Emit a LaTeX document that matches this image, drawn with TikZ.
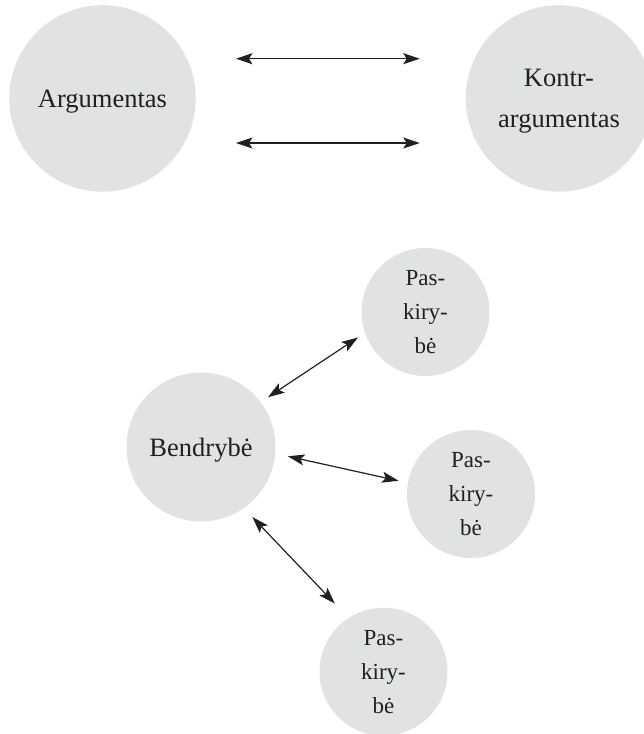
\documentclass[tikz,border=0pt]{standalone}
\usepackage{fontspec}
\setmainfont{Liberation Serif}
\usetikzlibrary{arrows.meta}
\definecolor{bubble}{RGB}{225,226,228}
\definecolor{ink}{RGB}{35,31,32}
\begin{document}
\begin{tikzpicture}[x=1pt,y=-1pt,
  bub/.style={circle, fill=bubble, inner sep=0pt, outer sep=0pt, text=ink, align=center, text depth=0pt},
  big/.style={bub, minimum size=186.5pt, font=\fontsize{26.5}{41}\selectfont},
  mid/.style={bub, minimum size=149pt, font=\fontsize{26.5}{41}\selectfont},
  small/.style={bub, minimum size=128pt, font=\fontsize{23}{34}\selectfont},
  arr/.style={{Stealth[length=16.5pt,width=11pt,inset=3.5pt]}-{Stealth[length=16.5pt,width=11pt,inset=3.5pt]}, line width=1.2pt, draw=ink}]
\useasboundingbox (0,0) rectangle (643,734);
\node[big] (A) at (102.5,98.4) {Argumentas};
\node[big] (K) at (559,98.4) {Kontr-\\argumentas};
\node[mid] (B) at (201,447) {Bendrybė};
\node[small] (P1) at (425.5,312) {Pas-\\kiry-\\bė};
\node[small] (P2) at (471,494) {Pas-\\kiry-\\bė};
\node[small] (P3) at (383.5,671.7) {Pas-\\kiry-\\bė};
\draw[arr] ([shift={(40.2,-39.7)}]A.east) -- ([shift={(-46,-39.7)}]K.west);
\draw[arr] ([shift={(40.2,44.6)}]A.east) -- ([shift={(-46,44.6)}]K.west);
\draw[arr, shorten <=9pt, shorten >=8.4pt] (B.37) -- (P1.199.2);
\draw[arr, shorten <=13pt, shorten >=9.7pt] (B.-5.9) -- (P2.170.4);
\draw[arr, shorten <=12.6pt, shorten >=20pt] (B.-55.8) -- (P3.123.4);
\end{tikzpicture}
\end{document}
